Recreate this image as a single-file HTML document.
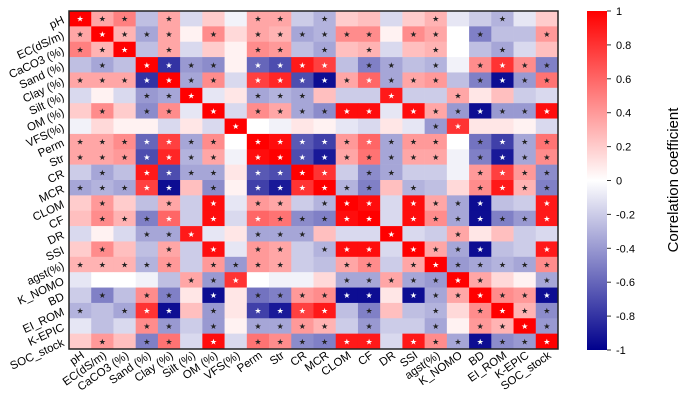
<!DOCTYPE html>
<html><head><meta charset="utf-8"><style>
body{margin:0;background:#fff;}
svg{display:block;font-family:"Liberation Sans","DejaVu Sans",sans-serif;}
</style></head><body>
<svg id="chart" width="685" height="402" xmlns="http://www.w3.org/2000/svg">
<g id="cells"></g>
<g id="xlab"></g>
<g id="ylab"></g>
<rect x="69" y="11" width="489" height="338" fill="none" stroke="#222" stroke-width="1.5"/>
<defs><linearGradient id="cb" x1="0" y1="0" x2="0" y2="1">
<stop offset="0" stop-color="#ff0000"/><stop offset="0.5" stop-color="#ffffff"/><stop offset="1" stop-color="#00008c"/></linearGradient></defs>
<rect x="587" y="11" width="20" height="339" fill="url(#cb)"/>
<g id="cbticks"></g>
<text x="678" y="180" font-size="15" text-anchor="middle" transform="rotate(-90 678 180)">Correlation coefficient</text>
</svg>
<script>
const labels=["pH","EC(dS/m)","CaCO3 (%)","Sand (%)","Clay (%)","Silt (%)","OM (%)","VFS(%)","Perm","Str","CR","MCR","CLOM","CF","DR","SSI","agst(%)","K_NOMO","BD","EI_ROM","K-EPIC","SOC_stock"];
const r0=[1,0.35,0.5,-0.25,0.35,-0.15,0.2,-0.05,0.35,0.35,-0.2,-0.3,0.2,0.25,-0.15,0.2,0.3,-0.1,-0.2,-0.3,-0.1,0.2];
const r1=[0.35,1,0.3,-0.35,0.35,0.05,0.45,0.15,0.35,0.3,-0.35,-0.3,0.45,0.45,0.05,0.45,0.35,0,-0.5,-0.25,-0.25,0.4];
const r2=[0.5,0.3,1,-0.25,0.35,-0.15,0.2,0.05,0.45,0.4,-0.25,-0.35,0.25,0.3,-0.15,0.25,0.3,0,-0.25,-0.35,-0.15,0.25];
const r3=[-0.25,-0.35,-0.25,1,-0.8,-0.4,-0.45,0.05,-0.6,-0.7,0.9,0.75,-0.25,-0.5,-0.35,-0.25,-0.3,-0.05,0.45,0.8,0.45,-0.5];
const r4=[0.35,0.35,0.35,-0.8,1,-0.35,0.45,-0.15,0.75,0.85,-0.7,-0.95,0.35,0.6,-0.35,0.35,0.4,-0.25,-0.5,-0.95,-0.4,0.55];
const r5=[-0.15,0.05,-0.15,-0.4,-0.35,1,-0.1,0.1,-0.35,-0.3,-0.35,0.25,-0.2,-0.2,0.9,-0.2,-0.2,0.35,0.1,0.25,-0.2,-0.15];
const r6=[0.2,0.45,0.2,-0.45,0.45,-0.1,1,-0.15,0.45,0.35,-0.35,-0.45,0.95,0.95,-0.1,0.95,0.35,-0.4,-0.95,-0.4,-0.4,0.95];
const r7=[-0.05,0.15,0.05,0.05,-0.15,0.1,-0.15,1,0,-0.05,0.1,0.05,-0.1,-0.15,0.1,-0.1,-0.4,0.8,0.1,0.1,0.05,-0.15];
const r8=[0.35,0.35,0.45,-0.6,0.75,-0.35,0.45,0,1,0.95,-0.65,-0.75,0.4,0.6,-0.35,0.4,0.4,0,-0.55,-0.75,-0.35,0.55];
const r9=[0.35,0.35,0.4,-0.7,0.85,-0.3,0.35,-0.05,0.95,1,-0.7,-0.9,0.35,0.55,-0.35,0.35,0.35,-0.05,-0.5,-0.9,-0.35,0.45];
const r10=[-0.2,-0.35,-0.25,0.9,-0.7,-0.35,-0.35,0.1,-0.65,-0.7,1,0.8,-0.2,-0.45,-0.35,-0.2,-0.2,-0.05,0.4,0.75,0.4,-0.45];
const r11=[-0.35,-0.3,-0.35,0.75,-0.95,0.25,-0.45,0.05,-0.75,-0.9,0.8,1,-0.3,-0.5,0.25,-0.3,-0.25,0.15,0.45,0.9,0.3,-0.5];
const r12=[0.2,0.4,0.2,-0.25,0.35,-0.2,0.95,-0.1,0.4,0.35,-0.2,-0.3,1,0.95,-0.15,0.95,0.35,-0.35,-0.95,-0.25,-0.2,0.9];
const r13=[0.25,0.45,0.3,-0.5,0.6,-0.2,0.95,-0.15,0.6,0.55,-0.45,-0.5,0.95,1,-0.15,0.95,0.45,-0.35,-0.95,-0.5,-0.4,0.9];
const r14=[-0.15,0.05,-0.15,-0.35,-0.35,0.9,-0.1,0.1,-0.35,-0.35,-0.35,0.25,-0.15,-0.15,1,-0.15,-0.2,0.35,0.1,0.25,-0.2,-0.15];
const r15=[0.2,0.45,0.25,-0.25,0.35,-0.2,0.95,-0.1,0.4,0.35,-0.2,-0.3,0.95,0.95,-0.15,1,0.35,-0.35,-0.95,-0.25,-0.2,0.9];
const r16=[0.3,0.3,0.3,-0.3,0.4,-0.2,0.4,-0.4,0.4,0.35,-0.2,-0.25,0.35,0.45,-0.2,0.35,1,-0.4,-0.35,-0.3,-0.35,0.45];
const r17=[-0.1,0,0,-0.05,-0.25,0.35,-0.4,0.8,0,-0.05,-0.05,0.15,-0.35,-0.35,0.35,-0.35,-0.4,1,0.35,0.15,0.05,-0.35];
const r18=[-0.2,-0.5,-0.25,0.45,-0.5,0.1,-0.95,0.1,-0.55,-0.5,0.4,0.45,-0.95,-0.95,0.1,-0.95,-0.35,0.35,1,0.45,0.4,-0.95];
const r19=[-0.3,-0.25,-0.35,0.8,-0.95,0.25,-0.4,0.1,-0.75,-0.9,0.75,0.9,-0.25,-0.5,0.25,-0.25,-0.3,0.15,0.45,1,0.3,-0.45];
const r20=[-0.1,-0.25,-0.15,0.45,-0.4,-0.2,-0.4,0.05,-0.35,-0.35,0.4,0.3,-0.2,-0.4,-0.2,-0.2,-0.35,0.05,0.4,0.3,1,-0.4];
const r21=[0.2,0.4,0.25,-0.5,0.55,-0.15,0.95,-0.15,0.55,0.45,-0.45,-0.5,0.9,0.9,-0.15,0.9,0.45,-0.35,-0.95,-0.45,-0.4,1];
const rows=[r0,r1,r2,r3,r4,r5,r6,r7,r8,r9,r10,r11,r12,r13,r14,r15,r16,r17,r18,r19,r20,r21];
const cbTicks=[1,0.8,0.6,0.4,0.2,0,-0.2,-0.4,-0.6,-0.8,-1];

const NS="http://www.w3.org/2000/svg";
const X0=69,Y0=11,CW=489/22,CH=338/22;
const xPos=i=>X0+i*CW, yPos=j=>Y0+j*CH;
const cbY=v=>11+(1-v)/2*339;
function color(v){
  if(v>=0){const t=Math.min(v,1);return `rgb(255,${Math.round(255*(1-t))},${Math.round(255*(1-t))})`;}
  const t=Math.min(-v,1);return `rgb(${Math.round(255*(1-t))},${Math.round(255*(1-t))},${Math.round(255-115*t)})`;
}
function mk(tag,attrs,parent){const e=document.createElementNS(NS,tag);for(const k in attrs)e.setAttribute(k,attrs[k]);parent.appendChild(e);return e;}
const cells=document.getElementById('cells');
rows.forEach((row,j)=>{row.forEach((v,i)=>{
  const r=mk('rect',{x:xPos(i),y:yPos(j),width:CW+0.3,height:CH+0.3,fill:color(v)},cells);
  
  
  if(Math.abs(v)>=0.28){
    const s=mk('text',{x:xPos(i)+CW/2,y:yPos(j)+CH/2+3,'font-size':8,'text-anchor':'middle',fill:Math.abs(v)>0.55?'#fff':'#222'},cells);
    s.textContent='★';
    
    
  }
});});
const xl=document.getElementById('xlab'),yl=document.getElementById('ylab');
labels.forEach((l,i)=>{
  const cx=xPos(i)+CW/2+5,cy=357;
  const t=mk('text',{x:cx,y:cy,'font-size':11.5,'text-anchor':'end',transform:`rotate(-35 ${cx} ${cy})`},xl);
  t.textContent=l;
  
  
  const ty=yPos(i)+CH/2+4,tx=65;
  const u=mk('text',{x:tx,y:ty,'font-size':11.5,'text-anchor':'end',transform:`rotate(-25 ${tx} ${ty})`},yl);
  u.textContent=l;
  
  
});
const cbt=document.getElementById('cbticks');
cbTicks.forEach(v=>{
  const y=cbY(v);
  const ln=mk('line',{x1:607,x2:611,y1:y,y2:y,stroke:'#333'},cbt);
  
  
  const t=mk('text',{x:616,y:y+4,'font-size':11},cbt);
  t.textContent=String(v);
  
  
});
</script>
</body></html>
